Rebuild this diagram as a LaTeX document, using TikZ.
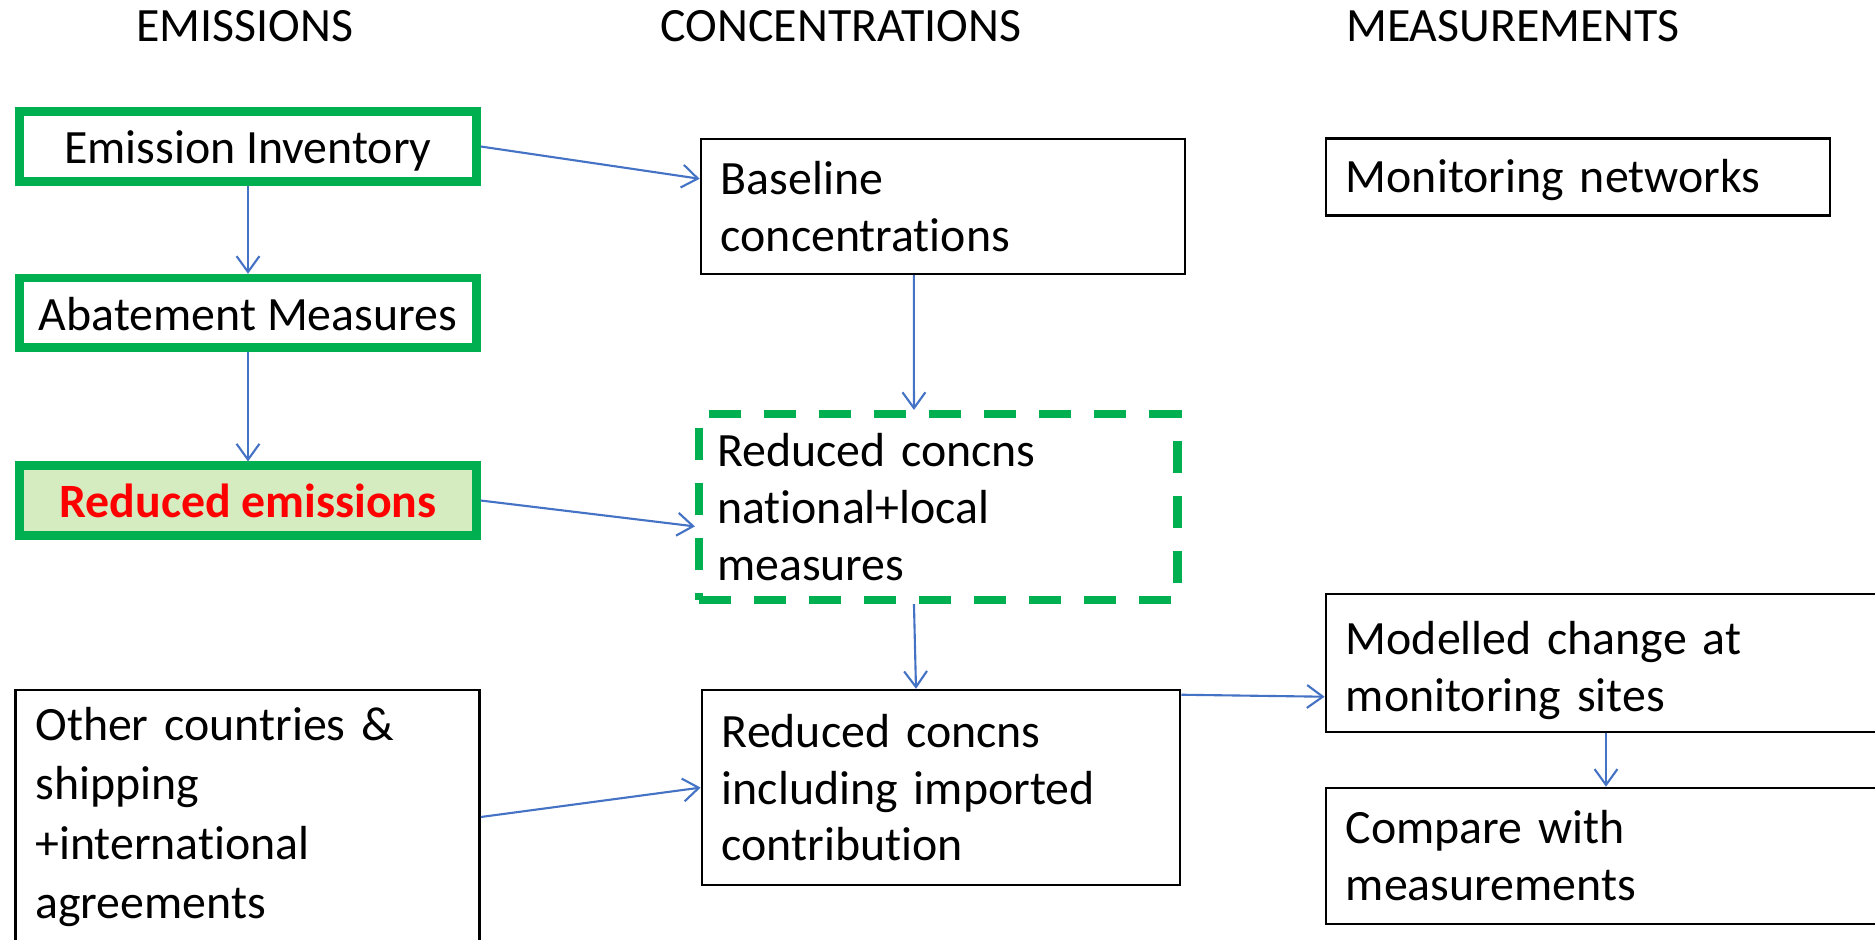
\documentclass[tikz,border=0pt]{standalone}
\usepackage{fontspec}
\setmainfont{Carlito}[Ligatures=NoCommon]
\usetikzlibrary{arrows.meta}
\usetikzlibrary{calc}

\definecolor{ppgreen}{HTML}{00B050}
\definecolor{palegreen}{HTML}{D5EBC0}
\definecolor{ppblue}{HTML}{4472C4}

\tikzset{
  greenbox/.style={draw=ppgreen, line width=0.085cm, minimum width=4.565cm, minimum height=0.695cm, inner sep=0pt, fill=white, text height=9.8pt, text depth=0pt},
  plainbox/.style={draw=black, line width=0.7pt, align=left, inner xsep=0.2cm, inner ysep=0pt},
  dashbox/.style={draw=ppgreen, line width=0.085cm, dash pattern=on 0.32cm off 0.23cm, align=left, inner xsep=0.18cm, inner ysep=0pt},
  flow/.style={draw=ppblue, line width=0.6pt, -{Straight Barb[length=4.5pt,width=6.5pt]}},
  heading/.style={anchor=base}
}

\begin{document}
\begin{tikzpicture}[x=0.01cm,y=-0.01cm,font=\fontsize{13.6}{16.2}\selectfont]
\useasboundingbox (0,0) rectangle (1875,940);

\node[heading] (hEmis) at (245,41.5) {EMISSIONS};
\node[heading] (hConc) at (841,41.5) {CONCENTRATIONS};
\node[heading] (hMeas) at (1513,41.5) {MEASUREMENTS};

% emissions column
\node[greenbox] (inv) at (248,146.5) {Emission Inventory};
\node[greenbox] (abate) at (248,312.8) {Abatement Measures};
\node[greenbox,fill=palegreen,text=red] (redem) at (248,500.5) {\bfseries Reduced emissions};
\node[plainbox,text width=4.24cm,minimum height=2.54cm,font=\fontsize{13.6}{16.8}\selectfont] (other) at (247.5,817) {Other countries \&\\shipping\\+international\\agreements};

% concentrations column
\node[plainbox,text width=4.44cm,minimum height=1.35cm] (base) at (943,206.3) {Baseline\\concentrations};
\node[dashbox,text width=4.42cm,minimum height=1.855cm] (natloc) at (938.3,507) {Reduced concns\\national+local\\measures};
\node[plainbox,text width=4.38cm,minimum height=1.95cm] (imported) at (941,787.6) {Reduced concns\\including imported\\contribution};

% measurements column
\node[plainbox,text width=4.64cm,minimum height=0.77cm,text height=11.4pt] (networks) at (1578,177) {Monitoring networks};
\node[plainbox,text width=5.2cm,minimum height=1.38cm,text height=13.5pt] (modelled) at (1606,663) {Modelled change at\\monitoring sites};
\node[plainbox,text width=5.2cm,minimum height=1.36cm] (compare) at (1606,856) {Compare with\\measurements};

% arrows
\draw[flow] (inv) -- (abate);
\draw[flow] (abate) -- (redem);
\draw[flow] (inv.east) -- ($(base.north west)!0.3!(base.south west)$);
\draw[flow] (redem.east) -- ($(natloc.north west)!0.6!(natloc.south west)$);
\draw[flow] (other.east) -- (imported.west);
\draw[flow] ($(base.south west)!0.44!(base.south east)$) -- ($(natloc.north west)!0.45!(natloc.north east)$);
\draw[flow] ($(natloc.south west)!0.45!(natloc.south east)$) -- ($(imported.north west)!0.448!(imported.north east)$);
\draw[flow] ($(imported.north east)!0.03!(imported.south east)$) -- ($(modelled.north west)!0.74!(modelled.south west)$);
\draw[flow] (modelled) -- (compare);
\end{tikzpicture}
\end{document}
